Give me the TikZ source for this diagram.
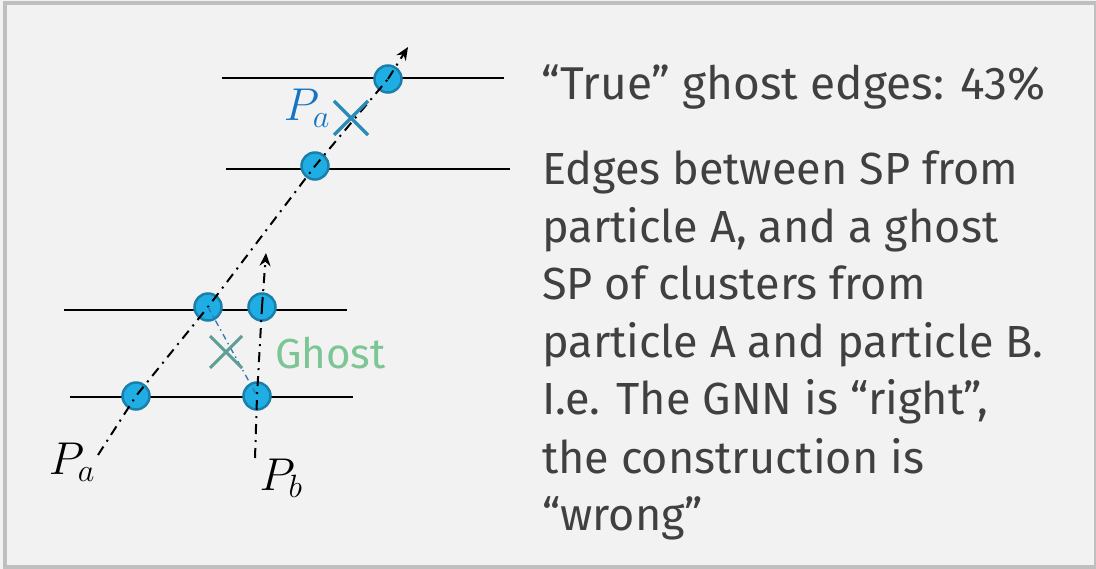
\documentclass[tikz,border=0pt]{standalone}
\usepackage{fix-cm}
\usepackage{fontspec}
\setmainfont{Fira Sans}
\usetikzlibrary{arrows.meta}
\definecolor{bgc}{HTML}{F2F2F2}
\definecolor{framec}{HTML}{BFBFBF}
\definecolor{txtc}{HTML}{404040}
\definecolor{spfill}{HTML}{1FAEE3}
\definecolor{spdraw}{HTML}{1B7FAA}
\definecolor{pablue}{HTML}{1574C4}
\definecolor{xblue}{HTML}{2A8CB5}
\definecolor{ghostx}{HTML}{5E9E94}
\definecolor{ghostg}{HTML}{7CC594}
\definecolor{edgeblue}{HTML}{2E75B6}
\tikzset{
  layer/.style={line width=2pt, black},
  sp/.style={circle, fill=spfill, draw=spdraw, line width=2.5pt, minimum size=27pt, inner sep=0pt},
  track/.style={line width=2pt, black, dash pattern=on 10pt off 6pt on 2pt off 6pt},
  trackarrow/.style={track, -{Stealth[length=13pt,width=11pt]}},
  ghostedge/.style={line width=1.3pt, edgeblue, dash pattern=on 6pt off 4pt on 1.5pt off 4pt},
  body/.style={anchor=base west, inner sep=0pt, text=txtc, font=\fontsize{45}{54}\selectfont},
  title/.style={anchor=base west, inner sep=0pt, text=txtc, font=\fontsize{46}{55}\selectfont},
  mathlbl/.style={inner sep=0pt, font=\fontsize{46}{54}\selectfont},
}
\begin{document}
\begin{tikzpicture}[x=1pt,y=-1pt]
\useasboundingbox (0,0) rectangle (1096,569);
\fill[bgc] (0,0) rectangle (1096,569);
\draw[framec, line width=4pt] (5,3) rectangle (1096,567);

% layers
\draw[layer] (222,78) coordinate (l1a) -- (504,78) coordinate (l1b);
\draw[layer] (226,169) coordinate (l2a) -- (510,169) coordinate (l2b);
\draw[layer] (64,310) coordinate (l3a) -- (347,310) coordinate (l3b);
\draw[layer] (70,397) coordinate (l4a) -- (353,397) coordinate (l4b);

% space points
\node[sp] (a4) at (388,79) {};
\node[sp] (a3) at (315,166) {};
\node[sp] (a2) at (208,307) {};
\node[sp] (b2) at (262,307) {};
\node[sp] (a1) at (136,396) {};
\node[sp] (b1) at (257,396) {};

% tracks
\coordinate (pa0) at (98,455);
\coordinate (paend) at (408,47);
\coordinate (pb0) at (255,458);
\coordinate (pbend) at (266,253);
\draw[track] (pa0) -- (a1.center) -- (a2.center) -- (a3.center) -- (a4.center);
\draw[trackarrow] (a4.center) -- (paend);
\draw[track] (pb0) -- (b1.center) -- (b2.center);
\draw[trackarrow] (b2.center) -- (pbend);

% ghost edge
\draw[ghostedge] (a2.center) -- (b1.center);

% crosses
\coordinate (gx) at (226,352);
\draw[ghostx, line width=3pt] ([shift={(-16,-16)}]gx) -- ([shift={(16,16)}]gx)
  ([shift={(-16,16)}]gx) -- ([shift={(16,-16)}]gx);
\coordinate (px) at (351,118);
\draw[xblue, line width=3.5pt] ([shift={(-17,-17)}]px) -- ([shift={(17,17)}]px)
  ([shift={(-17,17)}]px) -- ([shift={(17,-17)}]px);

% labels
\node[mathlbl, text=pablue] (lpa2) at (307,108) {$P_a$};
\node[mathlbl] (lpa) at (72,462) {$P_a$};
\node[mathlbl] (lpb) at (281,478) {$P_b$};
\node[anchor=west, inner sep=0pt, text=ghostg, font=\fontsize{42}{50}\selectfont] (ghost) at (275,353) {Ghost};

% text
\node[title] (t0) at (541,100) {“True” ghost edges: 43\%};
\node[body] (t1) at (542,185) {Edges between SP from};
\node[body] (t2) at (542,242.5) {particle A, and a ghost};
\node[body] (t3) at (542,300) {SP of clusters from};
\node[body] (t4) at (542,358) {particle A and particle B.};
\node[body] (t5) at (542,415) {I.e. The GNN is “right”,};
\node[body] (t6) at (542,473) {the construction is};
\node[body] (t7) at (542,530) {“wrong”};
\end{tikzpicture}
\end{document}
